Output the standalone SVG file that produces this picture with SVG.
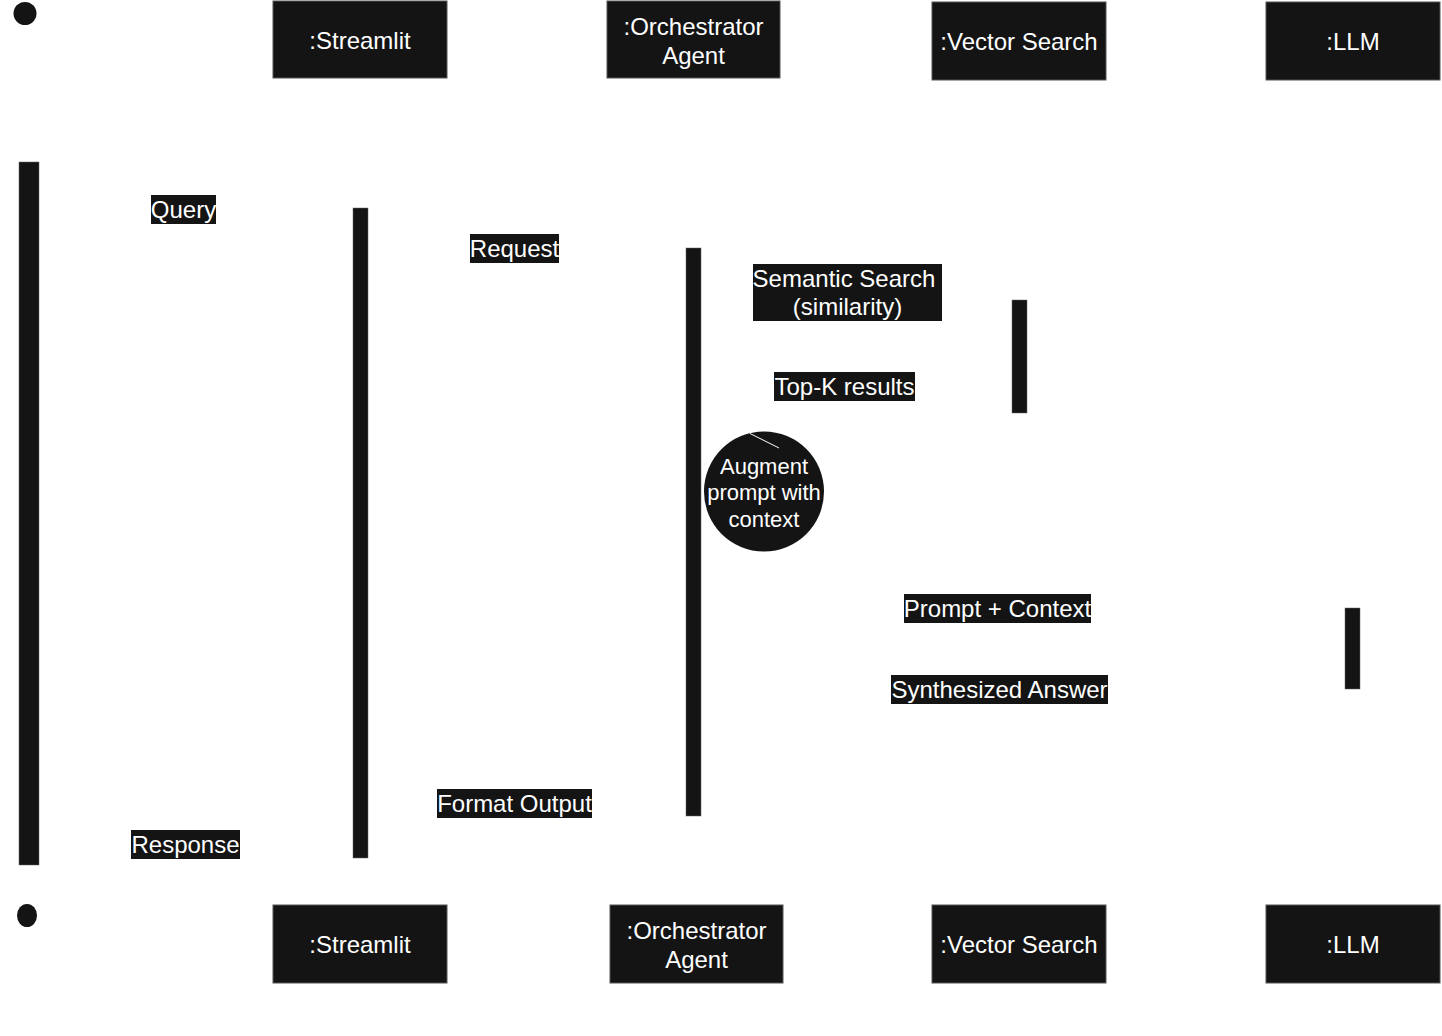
<svg xmlns="http://www.w3.org/2000/svg" width="1442" height="1036" viewBox="0 0 1442 1036">
<style>
.box{fill:#141414;stroke:#555;stroke-width:1}
.bar{fill:#141414;stroke:#666;stroke-width:0.5}
.lbl{fill:#141414}
.t{font-family:"Liberation Sans",Arial,sans-serif;font-size:24px;fill:#fff;text-anchor:middle;dominant-baseline:central}
.s{font-size:22px}
</style>
<rect width="1442" height="1036" fill="#fff"/>
<g id="actor-start"><circle cx="25" cy="13.5" r="11.5" fill="#141414"/></g>
<g id="actor-end"><ellipse cx="27" cy="915.5" rx="10" ry="11.5" fill="#141414"/></g>
<g id="streamlit-top"><rect class="box" x="273" y="1" width="174" height="77"/><text class="t" x="360" y="40">:Streamlit</text></g>
<g id="orchestrator-top"><rect class="box" x="607" y="1" width="173" height="77"/><text class="t" x="693.5" y="26">:Orchestrator</text><text class="t" x="693.5" y="55">Agent</text></g>
<g id="vector-top"><rect class="box" x="932" y="2" width="174" height="78"/><text class="t" x="1019" y="41">:Vector Search</text></g>
<g id="llm-top"><rect class="box" x="1266" y="2" width="174" height="78"/><text class="t" x="1353" y="41">:LLM</text></g>
<g id="streamlit-bottom"><rect class="box" x="273" y="905" width="174" height="78"/><text class="t" x="360" y="944">:Streamlit</text></g>
<g id="orchestrator-bottom"><rect class="box" x="610" y="905" width="173" height="78"/><text class="t" x="696.5" y="930">:Orchestrator</text><text class="t" x="696.5" y="959">Agent</text></g>
<g id="vector-bottom"><rect class="box" x="932" y="905" width="174" height="78"/><text class="t" x="1019" y="944">:Vector Search</text></g>
<g id="llm-bottom"><rect class="box" x="1266" y="905" width="174" height="78"/><text class="t" x="1353" y="944">:LLM</text></g>
<g id="actor-activation"><rect class="bar" x="19" y="162" width="20" height="703"/></g>
<g id="streamlit-activation"><rect class="bar" x="353" y="208" width="15" height="650"/></g>
<g id="orchestrator-activation"><rect class="bar" x="686" y="248" width="15" height="568"/></g>
<g id="vector-activation"><rect class="bar" x="1012" y="300" width="15" height="113"/></g>
<g id="llm-activation"><rect class="bar" x="1345" y="608" width="15" height="81"/></g>
<g id="augment"><circle cx="764" cy="491.5" r="60" fill="#141414"/><text class="t s" x="764" y="466">Augment</text><text class="t s" x="764" y="492.5">prompt with</text><text class="t s" x="764" y="519">context</text></g>
<g id="connectors"><line x1="750" y1="433.5" x2="779" y2="448" stroke="#fff" stroke-width="1"/></g>
<g id="labels">
<g id="lbl-query"><rect class="lbl" x="151" y="195" width="65" height="29"/><text class="t" x="183.5" y="209">Query</text></g>
<g id="lbl-request"><rect class="lbl" x="470" y="234" width="89" height="29"/><text class="t" x="514.5" y="248">Request</text></g>
<g id="lbl-semantic"><rect class="lbl" x="753" y="264" width="189" height="57"/><text class="t" x="844" y="278">Semantic Search</text><text class="t" x="847.5" y="306.5">(similarity)</text></g>
<g id="lbl-topk"><rect class="lbl" x="774" y="372" width="141" height="29"/><text class="t" x="844.5" y="386">Top-K results</text></g>
<g id="lbl-prompt"><rect class="lbl" x="904" y="594" width="187" height="29"/><text class="t" x="997.5" y="608">Prompt + Context</text></g>
<g id="lbl-answer"><rect class="lbl" x="891" y="675" width="217" height="29"/><text class="t" x="999.5" y="689">Synthesized Answer</text></g>
<g id="lbl-format"><rect class="lbl" x="437" y="789" width="155" height="29"/><text class="t" x="514.5" y="803">Format Output</text></g>
<g id="lbl-response"><rect class="lbl" x="131" y="830" width="109" height="29"/><text class="t" x="185.5" y="844">Response</text></g>
</g>
</svg>
